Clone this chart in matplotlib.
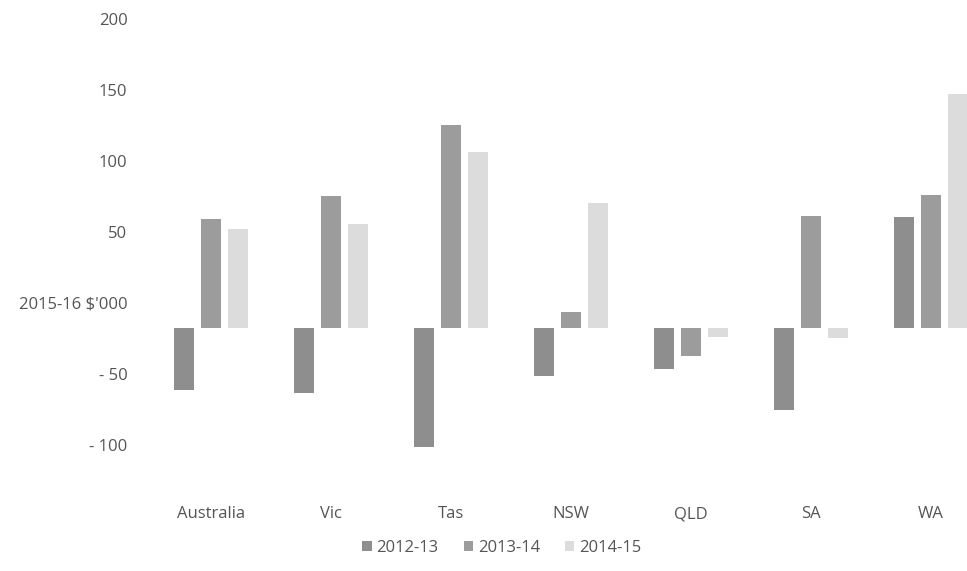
import numpy as np
import matplotlib
matplotlib.use("Agg")
import matplotlib.pyplot as plt
from matplotlib.transforms import ScaledTranslation

# data
regions = ["Australia", "Vic", "Tas", "NSW", "QLD", "SA", "WA"]
years = ["2012-13", "2013-14", "2014-15"]
v_2012 = [-44, -46, -84, -34, -29, -58, 78]
v_2013 = [77, 93, 143, 11, -20, 79, 94]
v_2014 = [70, 73, 124, 88, -6, -7, 165]

y_ticks = [-100, -50, 0, 50, 100, 150, 200]
y_labels = ["- 100", "- 50", "2015-16 $'000", "50", "100", "150", "200"]

colors = ["#8e8e8e", "#9c9c9c", "#dcdcdc"]
text_col = "#555555"

plt.rcParams['font.family'] = ['Open Sans', 'DejaVu Sans']

fig = plt.figure(figsize=(9.67, 5.71), dpi=100)
W, H = 967, 571
ax = fig.add_axes([151 / W, (H - 470) / H, 840 / W, 426 / H])

x = np.arange(len(regions))
width = 0.167
offset = 0.225
for i, vals in enumerate([v_2012, v_2013, v_2014]):
    ax.bar(x + (i - 1) * offset, vals, width, color=colors[i], label=years[i])

ax.set_xlim(-0.5, len(regions) - 0.5)
ax.set_ylim(-100, 200)
ax.set_xticks(x)
ax.set_xticklabels(regions, fontsize=12, color=text_col)
ax.set_yticks(y_ticks)
ax.set_yticklabels(y_labels, fontsize=12, color=text_col)
ax.tick_params(length=0)
ax.tick_params(axis='x', pad=26)
ax.tick_params(axis='y', pad=17)

# labels in the scan sit above their value positions
shift = ScaledTranslation(0, 25 / 100, fig.dpi_scale_trans)
for lab in ax.get_yticklabels():
    lab.set_transform(lab.get_transform() + shift)

for s in ax.spines.values():
    s.set_visible(False)

leg = fig.legend(loc="center", bbox_to_anchor=(502 / W, (H - 548) / H), ncol=3,
                 frameon=False, fontsize=12, handlelength=0.55, handleheight=0.55,
                 handletextpad=0.3, columnspacing=1.5)
for t in leg.get_texts():
    t.set_color(text_col)

fig.savefig("out.png", dpi=100)
